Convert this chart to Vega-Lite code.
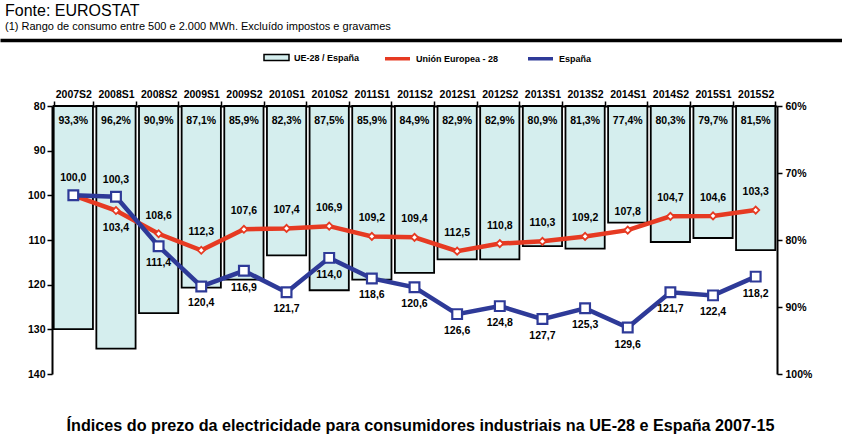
{
 "$schema": "https://vega.github.io/schema/vega-lite/v6.json",
 "padding": {"left": 0, "top": 3, "right": 0, "bottom": 0},
 "background": "white",
 "width": 842,
 "height": 268,
 "config": {
  "font": "Liberation Sans",
  "view": {"stroke": null},
  "axis": {"labelFont": "Liberation Sans", "labelFontWeight": "bold", "labelFontSize": 10.5, "labelColor": "black", "domainColor": "black", "domainWidth": 2, "tickColor": "black", "tickWidth": 1.5, "tickSize": 5, "grid": false, "titleFont": "Liberation Sans", "titleColor": "black"},
  "legend": {"labelFont": "Liberation Sans", "labelFontWeight": "bold", "labelFontSize": 9, "labelColor": "black"}
 },
 "title": {"text": "Fonte: EUROSTAT", "subtitle": "(1) Rango de consumo entre 500 e 2.000 MWh. Excluído impostos e gravames", "anchor": "start", "dx": 5, "font": "Liberation Sans", "fontSize": 16, "fontWeight": "normal", "color": "black", "subtitleFont": "Liberation Sans", "subtitleFontSize": 11, "subtitleColor": "black", "subtitlePadding": 2, "offset": 8},
 "data": {"values": [
  {"period": "2007S2", "pct": 93.3, "eu": 100.0, "es": 100.0},
  {"period": "2008S1", "pct": 96.2, "eu": 103.4, "es": 100.3},
  {"period": "2008S2", "pct": 90.9, "eu": 108.6, "es": 111.4},
  {"period": "2009S1", "pct": 87.1, "eu": 112.3, "es": 120.4},
  {"period": "2009S2", "pct": 85.9, "eu": 107.6, "es": 116.9},
  {"period": "2010S1", "pct": 82.3, "eu": 107.4, "es": 121.7},
  {"period": "2010S2", "pct": 87.5, "eu": 106.9, "es": 114.0},
  {"period": "2011S1", "pct": 85.9, "eu": 109.2, "es": 118.6},
  {"period": "2011S2", "pct": 84.9, "eu": 109.4, "es": 120.6},
  {"period": "2012S1", "pct": 82.9, "eu": 112.5, "es": 126.6},
  {"period": "2012S2", "pct": 82.9, "eu": 110.8, "es": 124.8},
  {"period": "2013S1", "pct": 80.9, "eu": 110.3, "es": 127.7},
  {"period": "2013S2", "pct": 81.3, "eu": 109.2, "es": 125.3},
  {"period": "2014S1", "pct": 77.4, "eu": 107.8, "es": 129.6},
  {"period": "2014S2", "pct": 80.3, "eu": 104.7, "es": 121.7},
  {"period": "2015S1", "pct": 79.7, "eu": 104.6, "es": 122.4},
  {"period": "2015S2", "pct": 81.5, "eu": 103.3, "es": 118.2}
 ]},
 "layer": [
  {
   "encoding": {
    "x": {"field": "period", "type": "nominal", "sort": null, "scale": {"range": [52, 777], "paddingInner": 0.08, "paddingOuter": 0.04}, "axis": {"orient": "top", "title": null, "labelAngle": 0, "tickBand": "extent", "labelPadding": 2}}
   },
   "layer": [
    {
     "mark": {"type": "bar", "stroke": "black", "strokeWidth": 1.8},
     "encoding": {
      "y": {"field": "pct", "type": "quantitative", "title": null, "scale": {"domain": [60, 100], "reverse": true, "nice": false, "zero": false}, "axis": {"orient": "right", "offset": -65, "values": [60, 65, 70, 75, 80, 85, 90, 95, 100], "labelExpr": "datum.value + '%'", "labelPadding": 3}},
      "y2": {"datum": 60},
      "fill": {"datum": "UE-28 / España", "scale": {"range": ["#d5eeee"]}, "legend": {"orient": "none", "legendX": 263, "legendY": -62, "title": null, "direction": "horizontal", "symbolType": "M-1,-0.24H1V0.24H-1Z", "symbolSize": 625, "symbolStrokeColor": "black", "symbolStrokeWidth": 1.5}}
     }
    },
    {
     "transform": [{"calculate": "replace(format(datum.pct, '.1f'), '.', ',') + '%'", "as": "pl"}],
     "mark": {"type": "text", "fontSize": 10.5, "fontWeight": "bold", "baseline": "middle", "color": "black"},
     "encoding": {"y": {"datum": 62.3}, "text": {"field": "pl"}}
    }
   ]
  },
  {
   "encoding": {
    "x": {"field": "period", "type": "nominal", "sort": null, "scale": {"range": [52, 777], "paddingInner": 0.08, "paddingOuter": 0.04}, "axis": {"orient": "bottom", "domain": false, "labels": false, "ticks": false, "title": "Índices do prezo da electricidade para consumidores industriais na UE-28 e España 2007-15", "titleFontSize": 16.2, "titleFontWeight": "bold", "titlePadding": 43, "titleX": 420, "titleAnchor": "middle"}}
   },
   "layer": [
    {
     "mark": {"type": "line", "strokeWidth": 4.5},
     "encoding": {
      "y": {"field": "eu", "type": "quantitative", "title": null, "scale": {"domain": [80, 140], "reverse": true, "nice": false, "zero": false}, "axis": {"orient": "left", "offset": -52, "values": [80, 90, 100, 110, 120, 130, 140], "labelPadding": 2}},
      "stroke": {"datum": "Unión Europea - 28", "scale": {"domain": ["Unión Europea - 28", "España"], "range": ["#e63a22", "#2e3a98"]}, "legend": {"orient": "none", "legendX": 383, "legendY": -62, "title": null, "direction": "horizontal", "symbolType": "stroke", "symbolSize": 625, "symbolStrokeWidth": 3.5, "columnPadding": 22}}
     }
    },
    {
     "mark": {"type": "point", "shape": "diamond", "filled": true, "fill": "white", "size": 50, "strokeWidth": 1.8, "opacity": 1},
     "encoding": {"y": {"field": "eu", "type": "quantitative", "title": null}, "stroke": {"datum": "Unión Europea - 28"}}
    },
    {
     "mark": {"type": "line", "strokeWidth": 4.5},
     "encoding": {"y": {"field": "es", "type": "quantitative", "title": null}, "stroke": {"datum": "España"}}
    },
    {
     "mark": {"type": "point", "shape": "square", "filled": true, "fill": "white", "size": 95, "strokeWidth": 2.2, "opacity": 1},
     "encoding": {"y": {"field": "es", "type": "quantitative", "title": null}, "stroke": {"datum": "España"}}
    },
    {
     "transform": [{"filter": "datum.period != '2008S1' && datum.period != '2007S2'"}, {"calculate": "replace(format(datum.eu, '.1f'), '.', ',')", "as": "l"}],
     "mark": {"type": "text", "fontSize": 10.5, "fontWeight": "bold", "baseline": "middle", "dy": -18, "color": "black"},
     "encoding": {"y": {"field": "eu", "type": "quantitative", "title": null}, "text": {"field": "l"}}
    },
    {
     "transform": [{"filter": "datum.period == '2008S1'"}, {"calculate": "replace(format(datum.eu, '.1f'), '.', ',')", "as": "l"}],
     "mark": {"type": "text", "fontSize": 10.5, "fontWeight": "bold", "baseline": "middle", "dy": 17, "color": "black"},
     "encoding": {"y": {"field": "eu", "type": "quantitative", "title": null}, "text": {"field": "l"}}
    },
    {
     "transform": [{"filter": "datum.period == '2007S2' || datum.period == '2008S1'"}, {"calculate": "replace(format(datum.es, '.1f'), '.', ',')", "as": "l"}],
     "mark": {"type": "text", "fontSize": 10.5, "fontWeight": "bold", "baseline": "middle", "dy": -17, "color": "black"},
     "encoding": {"y": {"field": "es", "type": "quantitative", "title": null}, "text": {"field": "l"}}
    },
    {
     "transform": [{"filter": "datum.period != '2007S2' && datum.period != '2008S1'"}, {"calculate": "replace(format(datum.es, '.1f'), '.', ',')", "as": "l"}],
     "mark": {"type": "text", "fontSize": 10.5, "fontWeight": "bold", "baseline": "middle", "dy": 17, "color": "black"},
     "encoding": {"y": {"field": "es", "type": "quantitative", "title": null}, "text": {"field": "l"}}
    }
   ]
  },
  {
   "mark": {"type": "text", "text": ""},
   "encoding": {
    "x": {"field": "period", "type": "nominal", "sort": null, "axis": {"orient": "top", "offset": 66, "domainWidth": 3.5, "labels": false, "ticks": false, "title": null}},
    "y": {"datum": 0, "type": "quantitative", "axis": null}
   }
  }
 ],
 "resolve": {"scale": {"x": "independent", "y": "independent"}}
}
